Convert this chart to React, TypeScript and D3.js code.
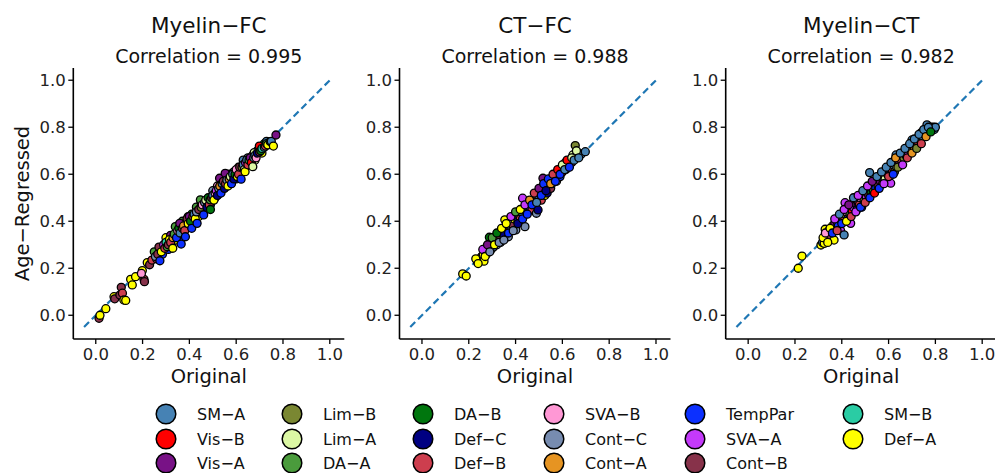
import React from 'react';
import * as d3 from 'd3';

const networks = ['SM−A', 'Vis−B', 'Vis−A', 'Lim−B', 'Lim−A', 'DA−A', 'DA−B', 'Def−C', 'Def−B', 'SVA−B', 'Cont−C', 'Cont−A', 'TempPar', 'SVA−A', 'Cont−B', 'SM−B', 'Def−A'];
const networkColors = ['#4682B4', '#FF0000', '#781286', '#7A8732', '#DCF8A4', '#4A9B3C', '#00760E', '#000082', '#CD3E4E', '#FF98D5', '#778CB0', '#E69422', '#0C30FF', '#C43AFA', '#87324A', '#2ACCA4', '#FFFF00'];
const panelTitles = ['Myelin−FC', 'CT−FC', 'Myelin−CT'];
const correlations = ['0.995', '0.988', '0.982'];
const tickValues = [0, 0.2, 0.4, 0.6, 0.8, 1.0];
const identityLine = [-0.05, 1.0];

// [original, age-regressed, network index]
const myelinFC: [number, number, number][] = [
  [0.014, -0.013, 14], [0.018, 0.0, 16], [0.043, 0.028, 16], [0.078, 0.079, 16], [0.081, 0.07, 14], [0.103, 0.086, 14], [0.109, 0.119, 14], [0.114, 0.094, 8], [0.12, 0.065, 16], [0.128, 0.063, 16], [0.149, 0.153, 16], [0.156, 0.129, 16], [0.17, 0.164, 16], [0.199, 0.19, 16], [0.206, 0.153, 8], [0.208, 0.143, 14], [0.195, 0.178, 9], [0.22, 0.224, 16], [0.23, 0.215, 14], [0.24, 0.235, 8],
  [0.25, 0.27, 5], [0.26, 0.24, 8], [0.27, 0.29, 14], [0.285, 0.26, 12], [0.3, 0.33, 16], [0.31, 0.28, 12], [0.32, 0.34, 2], [0.325, 0.3, 10], [0.34, 0.32, 16], [0.35, 0.38, 14], [0.36, 0.33, 12], [0.37, 0.4, 5], [0.38, 0.39, 2], [0.385, 0.37, 16], [0.395, 0.42, 14], [0.4, 0.38, 12], [0.41, 0.43, 6], [0.42, 0.4, 12], [0.43, 0.46, 5], [0.44, 0.42, 16], [0.45, 0.48, 6], [0.46, 0.45, 12], [0.47, 0.47, 0], [0.48, 0.48, 14], [0.49, 0.47, 12], [0.5, 0.53, 10], [0.51, 0.5, 12], [0.52, 0.55, 9], [0.53, 0.52, 16], [0.54, 0.55, 13], [0.55, 0.58, 11], [0.56, 0.55, 12], [0.57, 0.6, 10], [0.58, 0.59, 14], [0.59, 0.61, 0], [0.6, 0.58, 12], [0.61, 0.63, 11], [0.62, 0.61, 16], [0.63, 0.66, 0], [0.64, 0.63, 4], [0.65, 0.67, 10], [0.66, 0.65, 16], [0.67, 0.68, 9], [0.68, 0.66, 4], [0.69, 0.7, 0], [0.7, 0.71, 5], [0.71, 0.69, 16], [0.72, 0.73, 6], [0.73, 0.74, 0], [0.74, 0.73, 16],
  [0.255, 0.25, 10], [0.265, 0.26, 14], [0.274, 0.232, 12], [0.28, 0.27, 16], [0.29, 0.3, 13], [0.295, 0.285, 8], [0.3, 0.31, 15], [0.305, 0.292, 5], [0.31, 0.3, 14], [0.315, 0.322, 16], [0.32, 0.31, 8], [0.329, 0.285, 16], [0.33, 0.33, 11], [0.335, 0.345, 5], [0.34, 0.377, 5], [0.345, 0.33, 12], [0.35, 0.36, 9], [0.355, 0.37, 6], [0.359, 0.391, 2], [0.36, 0.35, 0], [0.365, 0.303, 12], [0.37, 0.37, 14], [0.375, 0.38, 11], [0.38, 0.36, 8], [0.383, 0.334, 12], [0.39, 0.41, 14], [0.395, 0.39, 16], [0.4, 0.42, 2], [0.405, 0.4, 6], [0.41, 0.37, 12], [0.415, 0.42, 8],
  [0.42, 0.43, 0], [0.425, 0.41, 16], [0.43, 0.44, 10], [0.433, 0.391, 12], [0.44, 0.45, 14], [0.447, 0.491, 5], [0.45, 0.46, 3], [0.455, 0.47, 9], [0.461, 0.427, 12], [0.465, 0.48, 10], [0.47, 0.49, 4], [0.475, 0.46, 7], [0.48, 0.5, 6], [0.485, 0.47, 8], [0.489, 0.491, 5], [0.49, 0.45, 6], [0.495, 0.5, 14], [0.5, 0.51, 0], [0.505, 0.49, 16], [0.51, 0.52, 9], [0.515, 0.53, 13], [0.52, 0.51, 7], [0.525, 0.54, 10], [0.529, 0.583, 2], [0.53, 0.55, 11], [0.535, 0.52, 12], [0.54, 0.56, 0], [0.545, 0.57, 14], [0.55, 0.54, 7], [0.553, 0.604, 2],
  [0.555, 0.56, 8], [0.56, 0.575, 10], [0.565, 0.55, 16], [0.57, 0.58, 11], [0.575, 0.59, 4], [0.58, 0.56, 12], [0.585, 0.6, 0], [0.59, 0.58, 7], [0.595, 0.6, 6], [0.6, 0.62, 9], [0.605, 0.59, 16], [0.61, 0.6, 8], [0.615, 0.63, 14], [0.621, 0.579, 12], [0.625, 0.63, 3], [0.63, 0.64, 0], [0.635, 0.62, 4], [0.638, 0.611, 16], [0.64, 0.65, 13], [0.645, 0.66, 0], [0.65, 0.64, 8], [0.655, 0.66, 5], [0.66, 0.67, 2], [0.665, 0.65, 1], [0.671, 0.632, 4], [0.675, 0.67, 10], [0.677, 0.692, 4], [0.68, 0.68, 0], [0.685, 0.67, 9], [0.69, 0.69, 7], [0.699, 0.72, 1], [0.7, 0.695, 14], [0.705, 0.7, 6], [0.71, 0.71, 15], [0.72, 0.715, 0], [0.725, 0.72, 8], [0.73, 0.73, 5], [0.735, 0.725, 16], [0.745, 0.739, 6], [0.75, 0.74, 0], [0.759, 0.72, 16], [0.77, 0.767, 2],
];

const ctFC: [number, number, number][] = [
  [0.174, 0.176, 16], [0.189, 0.167, 16], [0.237, 0.228, 16], [0.245, 0.235, 2], [0.25, 0.24, 16], [0.255, 0.25, 14], [0.262, 0.257, 16], [0.265, 0.23, 16], [0.27, 0.27, 13], [0.275, 0.26, 8], [0.28, 0.29, 10], [0.285, 0.27, 16], [0.288, 0.332, 6], [0.29, 0.3, 5], [0.295, 0.28, 15], [0.3, 0.31, 14], [0.305, 0.29, 0], [0.31, 0.32, 16], [0.315, 0.33, 9], [0.32, 0.3, 10], [0.325, 0.34, 6], [0.33, 0.33, 14], [0.335, 0.31, 10], [0.34, 0.35, 13], [0.345, 0.36, 16], [0.35, 0.34, 7], [0.354, 0.406, 16], [0.36, 0.37, 5], [0.365, 0.38, 15], [0.369, 0.334, 10], [0.37, 0.36, 8], [0.375, 0.39, 11], [0.38, 0.37, 0], [0.385, 0.4, 9], [0.39, 0.38, 14], [0.395, 0.41, 16], [0.401, 0.363, 10], [0.405, 0.42, 13], [0.41, 0.4, 12], [0.415, 0.43, 4], [0.42, 0.41, 8], [0.425, 0.44, 0], [0.43, 0.498, 13], [0.435, 0.45, 14], [0.44, 0.377, 10], [0.445, 0.46, 11], [0.45, 0.44, 7], [0.455, 0.47, 3], [0.46, 0.46, 12], [0.465, 0.48, 6], [0.47, 0.45, 8], [0.475, 0.49, 2], [0.48, 0.47, 14], [0.485, 0.5, 12], [0.489, 0.434, 10], [0.49, 0.51, 11], [0.496, 0.448, 7], [0.5, 0.5, 0], [0.505, 0.52, 9], [0.51, 0.49, 8], [0.515, 0.53, 12], [0.517, 0.583, 2], [0.52, 0.54, 11], [0.525, 0.51, 16], [0.53, 0.55, 6], [0.535, 0.52, 7], [0.54, 0.56, 12], [0.545, 0.57, 13], [0.55, 0.54, 14], [0.555, 0.56, 0], [0.56, 0.576, 12], [0.565, 0.58, 1], [0.57, 0.59, 11], [0.575, 0.57, 4], [0.58, 0.6, 8], [0.585, 0.61, 14], [0.59, 0.59, 12], [0.595, 0.62, 4], [0.6, 0.61, 1], [0.605, 0.63, 9], [0.61, 0.647, 4], [0.615, 0.62, 0], [0.62, 0.64, 2], [0.625, 0.63, 12], [0.63, 0.65, 1], [0.635, 0.66, 8], [0.64, 0.65, 14], [0.645, 0.682, 4], [0.65, 0.67, 1], [0.655, 0.722, 3], [0.66, 0.68, 13], [0.67, 0.69, 12], [0.68, 0.685, 0], [0.698, 0.696, 0],
  [0.23, 0.24, 16], [0.24, 0.22, 16], [0.26, 0.28, 13], [0.27, 0.25, 16], [0.28, 0.3, 2], [0.29, 0.27, 10], [0.3, 0.33, 5], [0.31, 0.3, 16], [0.32, 0.35, 6], [0.33, 0.31, 10], [0.34, 0.37, 16], [0.35, 0.32, 10], [0.36, 0.39, 16], [0.37, 0.35, 12], [0.38, 0.42, 13], [0.39, 0.36, 10], [0.4, 0.44, 5], [0.41, 0.39, 7], [0.42, 0.45, 16], [0.43, 0.41, 12], [0.44, 0.47, 13], [0.45, 0.43, 12], [0.46, 0.49, 11], [0.47, 0.47, 12], [0.48, 0.52, 8], [0.49, 0.48, 0], [0.5, 0.54, 2], [0.51, 0.51, 12], [0.52, 0.56, 12], [0.53, 0.53, 7], [0.54, 0.58, 12], [0.55, 0.56, 11], [0.56, 0.6, 8], [0.57, 0.57, 12], [0.58, 0.62, 1], [0.59, 0.6, 12], [0.6, 0.64, 4], [0.61, 0.62, 0], [0.62, 0.66, 1], [0.63, 0.63, 12], [0.64, 0.67, 4], [0.65, 0.66, 0], [0.66, 0.7, 4], [0.67, 0.67, 0],
];

const myelinCT: [number, number, number][] = [
  [0.214, 0.2, 16], [0.23, 0.252, 16], [0.311, 0.299, 16], [0.318, 0.31, 0], [0.325, 0.306, 16], [0.329, 0.366, 16], [0.335, 0.33, 16], [0.34, 0.35, 7], [0.345, 0.36, 13], [0.35, 0.34, 14], [0.355, 0.37, 9], [0.36, 0.38, 16], [0.367, 0.32, 16], [0.37, 0.39, 2], [0.375, 0.37, 8], [0.38, 0.4, 13], [0.385, 0.38, 12], [0.39, 0.41, 0], [0.395, 0.36, 13], [0.4, 0.42, 14], [0.405, 0.4, 8], [0.41, 0.342, 0], [0.414, 0.479, 13], [0.415, 0.43, 16], [0.42, 0.44, 9], [0.425, 0.41, 12], [0.43, 0.45, 8], [0.435, 0.43, 5], [0.438, 0.391, 13], [0.44, 0.47, 0], [0.445, 0.44, 1], [0.45, 0.46, 13], [0.455, 0.48, 2], [0.46, 0.494, 0], [0.465, 0.45, 12], [0.47, 0.48, 14], [0.475, 0.47, 8], [0.48, 0.5, 9], [0.485, 0.46, 12], [0.49, 0.51, 16], [0.495, 0.49, 3], [0.5, 0.52, 7], [0.505, 0.5, 13], [0.51, 0.53, 2], [0.515, 0.51, 14], [0.519, 0.607, 0], [0.52, 0.54, 12], [0.525, 0.52, 6], [0.53, 0.55, 0], [0.535, 0.53, 5], [0.54, 0.56, 16], [0.545, 0.54, 12], [0.55, 0.57, 8], [0.555, 0.55, 14], [0.56, 0.58, 13], [0.565, 0.57, 2], [0.57, 0.59, 0], [0.575, 0.56, 3], [0.58, 0.6, 10], [0.585, 0.58, 4], [0.59, 0.61, 14], [0.595, 0.6, 11], [0.6, 0.62, 0], [0.605, 0.6, 7], [0.609, 0.562, 13], [0.61, 0.63, 16], [0.615, 0.62, 8], [0.62, 0.64, 0], [0.625, 0.61, 3], [0.63, 0.65, 11], [0.632, 0.682, 0], [0.635, 0.63, 4], [0.64, 0.66, 0], [0.645, 0.65, 14], [0.651, 0.682, 16], [0.655, 0.66, 8], [0.66, 0.68, 0], [0.665, 0.67, 3], [0.67, 0.69, 11], [0.675, 0.68, 6], [0.68, 0.7, 0], [0.685, 0.69, 13], [0.69, 0.71, 0], [0.695, 0.7, 4], [0.7, 0.746, 0], [0.705, 0.72, 0], [0.71, 0.71, 11], [0.715, 0.73, 0], [0.72, 0.74, 0], [0.725, 0.73, 8], [0.73, 0.76, 0], [0.735, 0.75, 3], [0.74, 0.777, 0], [0.745, 0.76, 0], [0.75, 0.78, 0], [0.755, 0.77, 16], [0.764, 0.81, 0], [0.77, 0.79, 0], [0.78, 0.8, 0], [0.79, 0.8, 0], [0.795, 0.79, 0], [0.8, 0.8, 0],
  [0.32, 0.33, 16], [0.33, 0.35, 9], [0.34, 0.31, 16], [0.35, 0.37, 16], [0.36, 0.35, 12], [0.37, 0.41, 13], [0.38, 0.36, 8], [0.39, 0.43, 0], [0.4, 0.39, 12], [0.41, 0.45, 13], [0.42, 0.4, 16], [0.43, 0.47, 2], [0.44, 0.42, 8], [0.45, 0.5, 0], [0.46, 0.44, 13], [0.47, 0.51, 13], [0.48, 0.46, 12], [0.49, 0.53, 0], [0.5, 0.48, 8], [0.51, 0.55, 13], [0.52, 0.5, 12], [0.53, 0.57, 2], [0.54, 0.52, 1], [0.55, 0.59, 0], [0.56, 0.54, 12], [0.57, 0.61, 0], [0.58, 0.56, 13], [0.59, 0.63, 0], [0.6, 0.59, 8], [0.61, 0.65, 0], [0.62, 0.6, 12], [0.63, 0.67, 11], [0.64, 0.63, 3], [0.65, 0.69, 0], [0.66, 0.64, 13], [0.67, 0.71, 0], [0.68, 0.67, 8], [0.69, 0.73, 0], [0.7, 0.69, 11], [0.71, 0.75, 0], [0.72, 0.71, 3], [0.73, 0.77, 0], [0.74, 0.73, 8], [0.75, 0.79, 0], [0.76, 0.76, 11], [0.77, 0.8, 0], [0.78, 0.78, 6],
];

const panelData = [myelinFC, ctFC, myelinCT];

const W = 995;
const H = 473;
const FONT = '"DejaVu Sans", sans-serif';
const PANEL_LEFT = 73.3;
const PANEL_STEP = 326.2;
const PANEL_WIDTH = 271;
const PLOT_TOP = 68;
const PLOT_BOTTOM = 339;
const legendColX = [166, 292, 423, 554, 695, 853];
const legendRowY = [414, 439, 463];

function Panel({ index }: { index: number }) {
  const left = PANEL_LEFT + index * PANEL_STEP;
  const x = d3.scaleLinear().domain([-0.096, 1.062]).range([left, left + PANEL_WIDTH]);
  const y = d3.scaleLinear().domain([-0.101, 1.052]).range([PLOT_BOTTOM, PLOT_TOP]);
  const cx = left + PANEL_WIDTH / 2;
  const line = d3.line<number>().x((d) => x(d)).y((d) => y(d));
  const data = panelData[index];
  return (
    <g>
      <text x={cx} y={32.5} textAnchor="middle" fontSize={21.5} fontFamily={FONT} fill="#111">{panelTitles[index]}</text>
      <text x={cx} y={63} textAnchor="middle" fontSize={19} fontFamily={FONT} fill="#111">{`Correlation = ${correlations[index]}`}</text>
      <path d={line(identityLine) || ''} stroke="#1F77B4" strokeWidth={2.2} strokeDasharray="7,4" fill="none" />
      {data.map((d, i) => (
        <circle key={i} cx={x(d[0])} cy={y(d[1])} r={4} fill={networkColors[d[2]]} stroke="#000" strokeWidth={1.3} />
      ))}
      <line x1={left} x2={left} y1={PLOT_TOP} y2={PLOT_BOTTOM} stroke="#000" strokeWidth={1.6} />
      <line x1={left} x2={left + PANEL_WIDTH} y1={PLOT_BOTTOM} y2={PLOT_BOTTOM} stroke="#000" strokeWidth={1.6} />
      {tickValues.map((t) => (
        <g key={'x' + t}>
          <line x1={x(t)} x2={x(t)} y1={PLOT_BOTTOM} y2={PLOT_BOTTOM + 5} stroke="#000" strokeWidth={1.3} />
          <text x={x(t)} y={360} textAnchor="middle" fontSize={16.5} fontFamily={FONT} fill="#222">{t.toFixed(1)}</text>
        </g>
      ))}
      {tickValues.map((t) => (
        <g key={'y' + t}>
          <line x1={left - 5} x2={left} y1={y(t)} y2={y(t)} stroke="#000" strokeWidth={1.3} />
          <text x={left - 7.5} y={y(t)} dy="0.36em" textAnchor="end" fontSize={16.5} fontFamily={FONT} fill="#222">{t.toFixed(1)}</text>
        </g>
      ))}
      <text x={cx} y={383} textAnchor="middle" fontSize={19.5} fontFamily={FONT} fill="#111">Original</text>
      {index === 0 && (
        <text transform={`translate(29, ${(PLOT_TOP + PLOT_BOTTOM) / 2}) rotate(-90)`} textAnchor="middle" fontSize={19.5} fontFamily={FONT} fill="#111">Age−Regressed</text>
      )}
    </g>
  );
}

export default function App() {
  return (
    <svg width={W} height={H} style={{ position: 'absolute', left: 0, top: 0, background: '#fff' }}>
      <rect width={W} height={H} fill="#fff" />
      {[0, 1, 2].map((i) => <Panel key={i} index={i} />)}
      {networks.map((name, i) => {
        const col = Math.floor(i / 3);
        const row = i % 3;
        return (
          <g key={name}>
            <circle cx={legendColX[col]} cy={legendRowY[row]} r={9.8} fill={networkColors[i]} stroke="#000" strokeWidth={1.5} />
            <text x={legendColX[col] + 31} y={legendRowY[row]} dy="0.36em" fontSize={16} fontFamily={FONT} fill="#111">{name}</text>
          </g>
        );
      })}
    </svg>
  );
}
